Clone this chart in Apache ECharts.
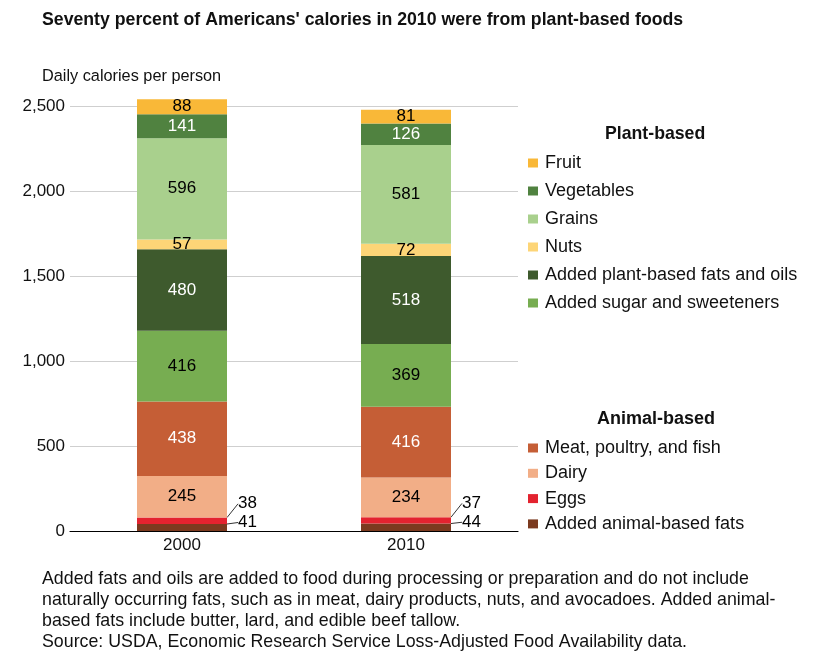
<!DOCTYPE html>
<html><head><meta charset="utf-8">
<script src="https://cdn.jsdelivr.net/npm/echarts@6/dist/echarts.min.js"></script>
<style>html,body{margin:0;padding:0;background:#fff}#c{width:820px;height:670px}</style>
</head><body><div id="c"></div>
<script>
const categories = ['2000', '2010'];
const animalFats = [41, 44];
const eggs = [38, 37];
const dairy = [245, 234];
const meat = [438, 416];
const sugar = [416, 369];
const plantFats = [480, 518];
const nuts = [57, 72];
const grains = [596, 581];
const vegetables = [141, 126];
const fruit = [88, 81];
const yTicks = [0, 500, 1000, 1500, 2000, 2500];

const F = 'Liberation Sans, Arial, sans-serif';
const LBL = 17;

function mk(name, data, color, labelColor, extra) {
  const s = {
    name: name, type: 'bar', stack: 'total', data: data, barWidth: 90, clip: false,
    itemStyle: { color: color },
    label: { show: true, position: 'inside', color: labelColor, fontFamily: F, fontSize: LBL },
    emphasis: { disabled: true }
  };
  return Object.assign(s, extra || {});
}

const series = [
  mk('Added animal-based fats', animalFats, '#7B3A1F', '#000', {
    label: { show: true, position: 'right', distance: 11, color: '#000', fontFamily: F, fontSize: LBL },
    labelLine: { show: true, lineStyle: { color: '#000', width: 0.8 } },
    labelLayout: { dx: 0, dy: -5 }
  }),
  mk('Eggs', eggs, '#E3232F', '#000', {
    label: { show: true, position: 'right', distance: 11, color: '#000', fontFamily: F, fontSize: LBL },
    labelLine: { show: true, lineStyle: { color: '#000', width: 0.8 } },
    labelLayout: { dx: 0, dy: -17 }
  }),
  mk('Dairy', dairy, '#F2AE87', '#000'),
  mk('Meat, poultry, and fish', meat, '#C55E36', '#fff'),
  mk('Added sugar and sweeteners', sugar, '#77AD51', '#000'),
  mk('Added plant-based fats and oils', plantFats, '#3E5A2D', '#fff'),
  mk('Nuts', nuts, '#FDD577', '#000'),
  mk('Grains', grains, '#A9D08D', '#000'),
  mk('Vegetables', vegetables, '#508240', '#fff'),
  mk('Fruit', fruit, '#F9B838', '#000')
];

const legendCommon = {
  orient: 'vertical', icon: 'rect', itemWidth: 10, itemHeight: 9,
  textStyle: { fontFamily: F, fontSize: 18, color: '#111', padding: [0, 0, 0, 2] },
  selectedMode: false
};

const chart = echarts.init(document.getElementById('c'));
chart.setOption({
  animation: false,
  backgroundColor: '#fff',
  grid: { left: 70, right: 302, top: 106, bottom: 139 },
  xAxis: {
    type: 'category', data: categories,
    axisLine: { lineStyle: { color: '#000', width: 1.2 } },
    axisTick: { show: false },
    axisLabel: { fontFamily: F, fontSize: 17, color: '#111', margin: 6 }
  },
  yAxis: {
    type: 'value', min: 0, max: 2500, interval: 500,
    axisLine: { show: false }, axisTick: { show: false },
    splitLine: { lineStyle: { color: '#cfcfcf' } },
    axisLabel: { fontFamily: F, fontSize: 17, color: '#111', margin: 5,
      formatter: v => yTicks.includes(v) ? v.toLocaleString('en-US') : '' }
  },
  legend: [
    Object.assign({}, legendCommon, { left: 523, top: 149, itemGap: 10,
      data: ['Fruit', 'Vegetables', 'Grains', 'Nuts', 'Added plant-based fats and oils', 'Added sugar and sweeteners'] }),
    Object.assign({}, legendCommon, { left: 523, top: 434, itemGap: 7.3,
      data: ['Meat, poultry, and fish', 'Dairy', 'Eggs', 'Added animal-based fats'] })
  ],
  graphic: [
    { type: 'text', left: 42, top: 11, style: { text: "Seventy percent of Americans' calories in 2010 were from plant-based foods", font: 'bold 17.7px ' + F, fill: '#111' } },
    { type: 'text', left: 42, top: 69, style: { text: 'Daily calories per person', font: '16.3px ' + F, fill: '#111' } },
    { type: 'text', left: 605, top: 125, style: { text: 'Plant-based', font: 'bold 17.7px ' + F, fill: '#111' } },
    { type: 'text', left: 597, top: 410, style: { text: 'Animal-based', font: 'bold 18px ' + F, fill: '#111' } },
    { type: 'text', left: 42, top: 569, style: {
      text: 'Added fats and oils are added to food during processing or preparation and do not include\nnaturally occurring fats, such as in meat, dairy products, nuts, and avocadoes. Added animal-\nbased fats include butter, lard, and edible beef tallow.\nSource: USDA, Economic Research Service Loss-Adjusted Food Availability data.',
      font: '17.8px ' + F, fill: '#111', lineHeight: 21 } }
  ],
  series: series
});
</script>
</body></html>
